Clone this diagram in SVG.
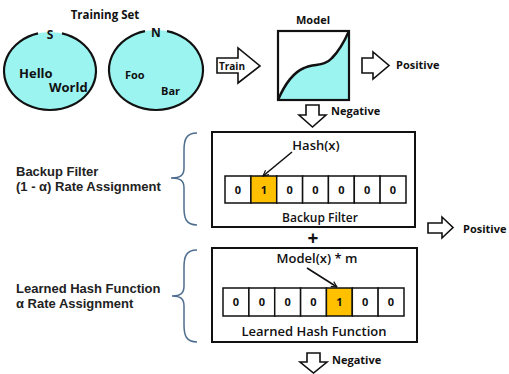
<svg xmlns="http://www.w3.org/2000/svg" width="509" height="374" viewBox="0 0 509 374">
<style>
.m{font-family:"Open Sans","Noto Sans",sans-serif;font-weight:bold;fill:#111}
.a{font-family:"Liberation Sans",Arial,sans-serif;font-weight:bold;fill:#222;font-size:13px}
.ln{stroke:#111;stroke-width:2.2;fill:none}
.cell{fill:#fff;stroke:#111;stroke-width:1.5}
.hot{fill:#FFC000;stroke:#111;stroke-width:1.5}
.blk{fill:#fff;stroke:#111;stroke-width:1.6;stroke-linejoin:miter}
.br{fill:none;stroke:#4F6E8E;stroke-width:1.5}
.d{font-family:"Open Sans","Noto Sans",sans-serif;font-weight:bold;font-size:11px;fill:#111;text-anchor:middle}
</style>
<defs>
<marker id="ah" viewBox="0 0 10 10" refX="9" refY="5" markerWidth="7" markerHeight="7" orient="auto" markerUnits="userSpaceOnUse">
<path d="M1 1 L9 5 L1 9" fill="none" stroke="#111" stroke-width="1.6"/>
</marker>
</defs>
<g id="training-set">
<text class="m" x="105" y="19" font-size="11.5" text-anchor="middle">Training Set</text>
</g>
<g id="set-S">
<ellipse cx="50" cy="71" rx="46" ry="39" fill="#9CF4F1"/>
<path class="ln" d="M62 33.35 A46 39 0 1 1 38 33.35"/>
<text class="m" x="50" y="39" font-size="12" text-anchor="middle">S</text>
<text class="m" x="19" y="78" font-size="13">Hello</text>
<text class="m" x="49" y="92" font-size="13">World</text>
</g>
<g id="set-N">
<ellipse cx="156" cy="70" rx="47" ry="40" fill="#9CF4F1"/>
<path class="ln" d="M167 31.1 A47 40 0 1 1 145 31.1"/>
<text class="m" x="156" y="37" font-size="12" text-anchor="middle">N</text>
<text class="m" x="125" y="79" font-size="11">Foo</text>
<text class="m" x="161" y="95" font-size="11">Bar</text>
</g>
<g id="model">
<text class="m" x="313" y="24" font-size="11" text-anchor="middle">Model</text>
<rect x="278" y="31" width="71" height="69" fill="#fff"/>
<path d="M278 100 C284 86 292 73 304 68 C314 63 324 67 332 58 C340 50 345 40 349 31 L349 100 Z" fill="#9CF4F1"/>
<path d="M278 100 C284 86 292 73 304 68 C314 63 324 67 332 58 C340 50 345 40 349 31" fill="none" stroke="#111" stroke-width="2.5"/>
<rect x="278" y="31" width="71" height="69" class="ln"/>
</g>
<g id="backup-filter">
<rect x="212" y="132" width="203" height="95" fill="#fff" stroke="#111" stroke-width="2"/>
<text class="m" x="316" y="150" font-size="13" text-anchor="middle" style="font-weight:600">Hash(x)</text>
<rect class="cell" x="225" y="176" width="25.9" height="27"/>
<rect class="hot" x="250.9" y="176" width="25.9" height="27"/>
<rect class="cell" x="276.7" y="176" width="25.9" height="27"/>
<rect class="cell" x="302.6" y="176" width="25.9" height="27"/>
<rect class="cell" x="328.4" y="176" width="25.9" height="27"/>
<rect class="cell" x="354.3" y="176" width="25.9" height="27"/>
<rect class="cell" x="380.1" y="176" width="25.9" height="27"/>
<text class="d" x="238" y="193.5">0</text>
<text class="d" x="263.8" y="193.5">1</text>
<text class="d" x="289.6" y="193.5">0</text>
<text class="d" x="315.5" y="193.5">0</text>
<text class="d" x="341.3" y="193.5">0</text>
<text class="d" x="367.2" y="193.5">0</text>
<text class="d" x="393" y="193.5">0</text>
<text class="m" x="320" y="222" font-size="12" text-anchor="middle" style="font-weight:600">Backup Filter</text>
</g>
<g id="learned-hash">
<rect x="212" y="248" width="205" height="94" fill="#fff" stroke="#111" stroke-width="2"/>
<text class="m" x="317" y="263" font-size="13" text-anchor="middle" style="font-weight:600">Model(x) * m</text>
<rect class="cell" x="223" y="288" width="25.9" height="28"/>
<rect class="cell" x="248.9" y="288" width="25.9" height="28"/>
<rect class="cell" x="274.7" y="288" width="25.9" height="28"/>
<rect class="cell" x="300.6" y="288" width="25.9" height="28"/>
<rect class="hot" x="326.4" y="288" width="25.9" height="28"/>
<rect class="cell" x="352.3" y="288" width="25.9" height="28"/>
<rect class="cell" x="378.1" y="288" width="25.9" height="28"/>
<text class="d" x="236" y="306">0</text>
<text class="d" x="261.8" y="306">0</text>
<text class="d" x="287.6" y="306">0</text>
<text class="d" x="313.5" y="306">0</text>
<text class="d" x="339.3" y="306">1</text>
<text class="d" x="365.2" y="306">0</text>
<text class="d" x="391" y="306">0</text>
<text class="m" x="314" y="336" font-size="13" text-anchor="middle" style="font-weight:600">Learned Hash Function</text>
</g>
<g id="labels">
<text class="a" x="16" y="176">Backup Filter</text>
<text class="a" x="16" y="191">(1 - α) Rate Assignment</text>
<text class="a" x="16" y="293">Learned Hash Function</text>
<text class="a" x="16" y="308">α Rate Assignment</text>
<path class="br" d="M197 133 C186 133 184 140 184 150 L184 168 C184 175 181 178 171 178 C181 178 184 181 184 188 L184 208 C184 218 186 225 197 225"/>
<path class="br" d="M197 250 C186 250 184 257 184 267 L184 286 C184 293 181 296 172 296 C181 296 184 299 184 306 L184 325 C184 335 186 342 197 342"/>
<text class="m" x="313" y="245" font-size="19" text-anchor="middle">+</text>
</g>
<g id="connectors">
<path class="blk" d="M217 58 L238 58 L238 48 L260 66 L238 83 L238 73 L217 73 Z"/>
<text class="m" x="219" y="70" font-size="10">Train</text>
<path class="blk" d="M362 58 L373 58 L373 52 L389 65.5 L373 79 L373 73 L362 73 Z"/>
<text class="m" x="396" y="69" font-size="11">Positive</text>
<path class="blk" d="M306 105 L319 105 L319 115 L326 115 L312.5 127 L299 115 L306 115 Z"/>
<text class="m" x="331" y="115" font-size="11">Negative</text>
<path class="blk" d="M428 223 L442 223 L442 217 L453 227.5 L442 238 L442 233 L428 233 Z"/>
<text class="m" x="463" y="233" font-size="11">Positive</text>
<path class="blk" d="M307 353 L320 353 L320 362 L327 362 L313.5 373 L300 362 L307 362 Z"/>
<text class="m" x="332" y="364" font-size="11">Negative</text>
<line x1="292" y1="152" x2="263" y2="176" stroke="#111" stroke-width="1.6" marker-end="url(#ah)"/>
<line x1="307" y1="268" x2="337" y2="287" stroke="#111" stroke-width="1.6" marker-end="url(#ah)"/>
</g>
</svg>
